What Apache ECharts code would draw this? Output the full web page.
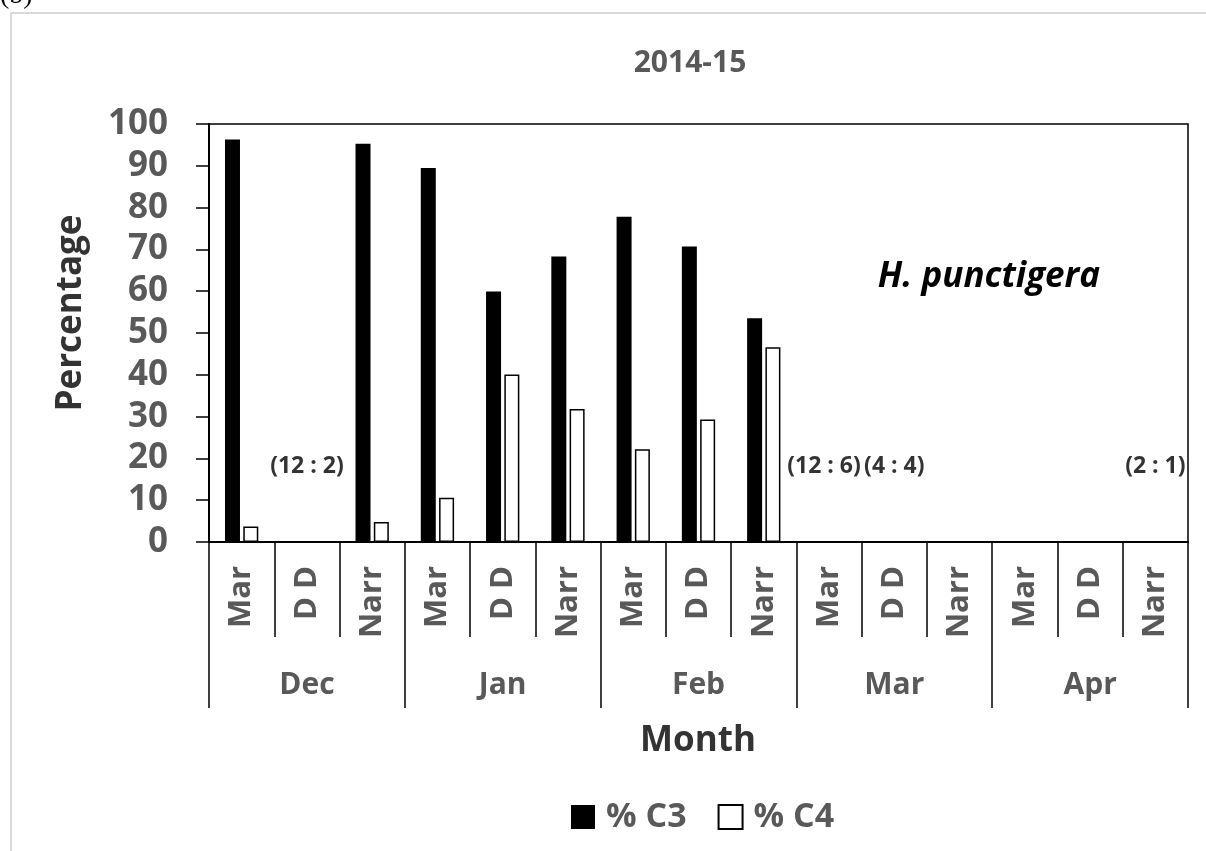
<!DOCTYPE html>
<html>
<head>
<meta charset="utf-8">
<script src="https://cdn.jsdelivr.net/npm/echarts@6/dist/echarts.min.js"></script>
<style>html,body{margin:0;padding:0;background:#fff;}#c{width:1206px;height:851px;}</style>
</head>
<body>
<div id="c"></div>
<script>
// ---- data ----
var subCategories = ['Mar','D D','Narr','Mar','D D','Narr','Mar','D D','Narr','Mar','D D','Narr','Mar','D D','Narr'];
var months = ['Dec','Jan','Feb','Mar','Apr'];
var c3 = [96.3, null, 95.3, 89.5, 59.9, 68.3, 77.8, 70.7, 53.5, null, null, null, null, null, null];
var c4 = [3.7, null, 4.8, 10.6, 40.1, 31.8, 22.2, 29.3, 46.6, null, null, null, null, null, null];
var yTicks = [0, 10, 20, 30, 40, 50, 60, 70, 80, 90, 100];
var annotIndex = [1, 9, 10, 14];
var annotText = ['(12 : 2)', '(12 : 6)', '(4 : 4)', '(2 : 1)'];
var annotLevel = 18;

var FONT = 'Open Sans';
var GRAY = '#595959';
var DARK = '#333333';

var chart = echarts.init(document.getElementById('c'), null, {renderer: 'canvas'});

// the "(12 : 6)" label is nudged left (as in the original) so it does not collide with its neighbour
var annotData = annotIndex.map(function (i, k) {
  var item = {value: [i, annotLevel], name: annotText[k]};
  if (k === 1) { item.label = {offset: [-5, 0]}; }
  return item;
});

var option = {
  backgroundColor: '#ffffff',
  animation: false,
  grid: {left: 209, right: 18, top: 124, bottom: 309, show: true, borderColor: '#000', borderWidth: 1.5, backgroundColor: 'transparent'},
  xAxis: [
    {
      type: 'category', data: subCategories, position: 'bottom',
      axisLine: {show: true, lineStyle: {color: '#000', width: 2}},
      axisTick: {show: true, interval: 0, length: 95, lineStyle: {color: '#000', width: 1.5}},
      axisLabel: {interval: 0, rotate: 90, margin: 24, fontFamily: FONT, fontWeight: 'bold', fontSize: 31, color: GRAY},
      splitLine: {show: false}
    },
    {
      type: 'category', data: months, position: 'bottom', gridIndex: 0,
      axisLine: {show: false},
      axisTick: {show: true, interval: 0, length: 166, lineStyle: {color: '#000', width: 1.5}},
      axisLabel: {interval: 0, margin: 128, fontFamily: FONT, fontWeight: 'bold', fontSize: 30, color: GRAY},
      splitLine: {show: false}
    }
  ],
  yAxis: {
    type: 'value', min: yTicks[0], max: yTicks[yTicks.length - 1], interval: 10,
    axisLine: {show: true, lineStyle: {color: '#000', width: 2}},
    axisTick: {show: true, length: 13, lineStyle: {color: '#000', width: 1.5}},
    axisLabel: {margin: 41, fontFamily: FONT, fontWeight: 'bold', fontSize: 35, color: GRAY},
    splitLine: {show: false}
  },
  legend: {
    data: ['% C3', '% C4'], left: 566, top: 795, itemWidth: 24, itemHeight: 24, itemGap: 31,
    icon: 'rect',
    textStyle: {fontFamily: FONT, fontWeight: 'bold', fontSize: 34, color: GRAY, padding: [0, 0, 0, 6]}
  },
  series: [
    {
      name: '% C3', type: 'bar', data: c3, xAxisIndex: 0, barWidth: 15, barGap: '22%',
      itemStyle: {color: '#000', borderColor: '#000', borderWidth: 0}
    },
    {
      name: '% C4', type: 'bar', data: c4, xAxisIndex: 0, barWidth: 15, barGap: '22%',
      itemStyle: {color: '#fff', borderColor: '#000', borderWidth: 1.5}
    },
    {
      name: 'annot', type: 'scatter', xAxisIndex: 0, data: annotData, symbolSize: 0, silent: true,
      label: {show: true, position: 'inside', formatter: function (p) { return p.name; },
        fontFamily: FONT, fontWeight: 'bold', fontSize: 23, color: '#000'}
    }
  ],
  graphic: [
    {type: 'rect', shape: {x: 11, y: 13, width: 1300, height: 900}, style: {fill: 'none', stroke: '#d9d9d9', lineWidth: 2}, silent: true, z: -1},
    {type: 'text', x: 0, y: -4, style: {text: '(b)', fontFamily: 'Liberation Serif', fontSize: 28, fill: '#000', align: 'left', verticalAlign: 'middle'}},
    {type: 'text', x: 690, y: 63, style: {text: '2014-15', fontFamily: FONT, fontWeight: 'bold', fontSize: 30, fill: GRAY, align: 'center', verticalAlign: 'middle'}},
    {type: 'text', x: 71, y: 313, rotation: Math.PI / 2, style: {text: 'Percentage', fontFamily: FONT, fontWeight: 'bold', fontSize: 35, fill: DARK, align: 'center', verticalAlign: 'middle'}},
    {type: 'text', x: 698, y: 741, style: {text: 'Month', fontFamily: FONT, fontWeight: 'bold', fontSize: 35, fill: DARK, align: 'center', verticalAlign: 'middle'}},
    {type: 'text', x: 989, y: 277, style: {text: 'H. punctigera', fontFamily: FONT, fontWeight: 'bold', fontStyle: 'italic', fontSize: 35, fill: '#000', align: 'center', verticalAlign: 'middle'}}
  ]
};
chart.setOption(option);
</script>
</body>
</html>
